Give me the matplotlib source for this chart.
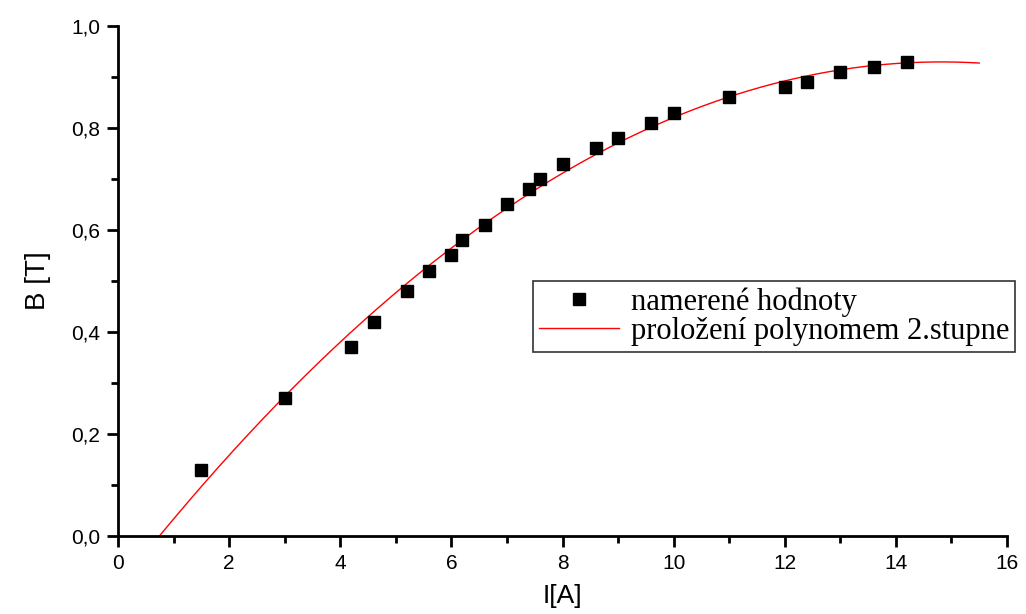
import matplotlib.pyplot as plt
import numpy as np
from matplotlib.ticker import MultipleLocator, FuncFormatter

# measured current I[A] and field B[T]
proud = [1.5, 3.0, 4.2, 4.6, 5.2, 5.6, 6.0, 6.2, 6.6, 7.0, 7.4, 7.6, 8.0,
         8.6, 9.0, 9.6, 10.0, 11.0, 12.0, 12.4, 13.0, 13.6, 14.2]
pole = [0.13, 0.27, 0.37, 0.42, 0.48, 0.52, 0.55, 0.58, 0.61, 0.65, 0.68, 0.70, 0.73,
        0.76, 0.78, 0.81, 0.83, 0.86, 0.88, 0.89, 0.91, 0.92, 0.93]

labels = ['namerené hodnoty', 'proložení polynomem 2.stupne']

# 2nd order polynomial fit
coef = np.polyfit(proud, pole, 2)
xf = np.linspace(0.0, 15.5, 300)
yf = np.polyval(coef, xf)

fig = plt.figure(figsize=(10.26, 6.14), dpi=100)
ax = fig.add_axes([0.115, 0.127, 0.8665, 0.831])

ax.plot(xf, yf, color='red', lw=1.0, label=labels[1], zorder=2)
ax.plot(proud, pole, 's', color='black', markersize=9, label=labels[0], zorder=3)

ax.set_xlim(0, 16)
ax.set_ylim(0, 1.0)
ax.xaxis.set_major_locator(MultipleLocator(2))
ax.xaxis.set_minor_locator(MultipleLocator(1))
ax.yaxis.set_major_locator(MultipleLocator(0.2))
ax.yaxis.set_minor_locator(MultipleLocator(0.1))
ax.yaxis.set_major_formatter(FuncFormatter(lambda v, p: ('%.1f' % v).replace('.', ',')))

for s in ['top', 'right']:
    ax.spines[s].set_visible(False)
for s in ['left', 'bottom']:
    ax.spines[s].set_linewidth(2)
    ax.spines[s].set_clip_on(False)

ax.tick_params(which='major', direction='out', length=8, width=2, labelsize=15, pad=5)
ax.tick_params(which='minor', direction='out', length=5, width=2)
for t in ax.get_xticklabels() + ax.get_yticklabels():
    t.set_family('Liberation Sans')

ax.set_xlabel('I[A]', fontsize=19, family='Liberation Sans', labelpad=8)
ax.set_ylabel('B [T]', fontsize=20, family='Liberation Sans', labelpad=14)

h, l = ax.get_legend_handles_labels()
leg = ax.legend(h[::-1], l[::-1], loc='upper left', bbox_to_anchor=(0.467, 0.50),
                prop={'family': 'Liberation Serif', 'size': 22}, frameon=True,
                fancybox=False, edgecolor='black', handlelength=2.6,
                borderpad=0.2, labelspacing=0.0, handletextpad=0.4, borderaxespad=0)
leg.get_frame().set_linewidth(1.2)

fig.savefig('out.png', dpi=100)
